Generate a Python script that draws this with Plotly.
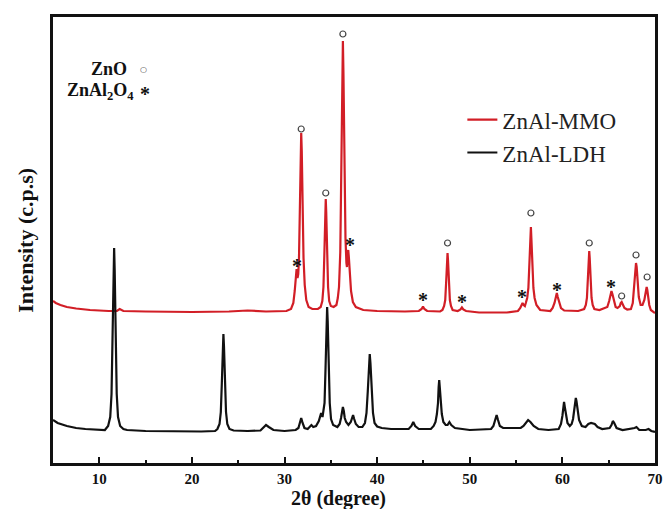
import plotly.graph_objects as go

# ---- data (2theta in degrees, intensity in arbitrary units) ----
ldh_x = [5.0, 5.5, 6.5, 7.5, 8.5, 10.0, 10.6,
         10.95, 11.18, 11.32, 11.43, 11.54, 11.6, 11.66, 11.77, 11.88, 12.02, 12.25, 12.6,
         13.0, 15.0, 18.0, 21.0, 22.5,
         22.75, 22.98, 23.12, 23.23, 23.34, 23.4, 23.46, 23.57, 23.68, 23.82, 24.05, 24.5, 26.0,
         27.4, 27.8, 28.0, 28.3, 28.8, 30.0, 31.2,
         31.5, 31.65, 31.8, 31.95, 32.15, 32.5, 32.75, 32.9, 33.1, 33.4,
         33.7, 33.85, 33.95, 34.1, 34.22,
         34.32, 34.43, 34.54, 34.6, 34.66, 34.77, 34.88, 35.02, 35.25, 35.7,
         35.95, 36.1, 36.2, 36.3, 36.4, 36.5, 36.65, 36.9,
         37.15, 37.28, 37.4, 37.52, 37.7, 38.0, 38.4,
         38.68, 38.85, 38.99, 39.125, 39.2, 39.275, 39.41, 39.55, 39.72, 40.0, 40.5, 41.5, 43.4,
         43.7, 43.9, 44.1, 44.5, 45.8,
         46.1, 46.3, 46.45, 46.57, 46.64, 46.7, 46.76, 46.87, 46.98, 47.15, 47.4,
         47.6, 47.8, 48.0, 48.4, 50.0, 52.3,
         52.55, 52.75, 52.9, 53.05, 53.25, 53.6, 55.5,
         55.8, 56.1, 56.3, 56.55, 56.9, 57.4, 58.5, 59.6,
         59.85, 60.0, 60.1, 60.18, 60.26, 60.38, 60.55, 60.8, 61.0,
         61.15, 61.3, 61.4, 61.45, 61.52, 61.65, 61.8, 62.1, 62.5,
         62.8, 63.1, 63.5, 63.8, 64.3, 65.1,
         65.3, 65.45, 65.6, 65.85, 66.5, 67.5,
         67.8, 68.0, 68.3, 69.0, 69.3, 69.6, 70.0]
ldh_y = [43, 40, 37, 35, 34, 33, 33,
         37, 46, 69, 124, 193, 215, 193, 124, 69, 46, 37, 34,
         33, 32, 31.5, 31.5, 32,
         34, 39, 51, 80, 117, 129, 117, 80, 51, 39, 34, 32.5, 32,
         32.5, 36, 38, 36, 33, 32, 33,
         35, 40, 45, 40, 35, 34, 36, 38, 36, 37,
         42, 48, 50, 46, 52,
         60, 96, 142, 156, 142, 96, 60, 44, 38, 36,
         39, 45, 52, 56, 52, 45, 41, 38,
         41, 45, 48, 44, 39, 36, 36,
         40, 50, 72, 100, 109, 100, 72, 50, 40, 36.5, 35, 34, 34,
         37, 41, 37, 34, 34,
         37, 41, 49, 60, 76, 83, 76, 60, 49, 41, 38,
         38, 41, 38, 35, 33, 34,
         37, 43, 48, 43, 37, 35, 35,
         37, 41, 43, 41, 37, 34, 33, 34,
         39, 47, 56, 61, 56, 47, 40, 37, 39,
         44, 55, 63, 65, 62, 52, 43, 37, 36,
         39, 40, 39, 36, 34, 35,
         38, 42, 40, 35, 33, 34,
         35, 36, 33, 33, 34, 32, 31]

mmo_x = [5.0, 5.3, 5.8, 6.5, 7.5, 9.0, 11.0, 11.9, 12.2, 12.6, 15.0, 20.0, 24.0, 26.0, 28.0, 30.2, 30.7,
         30.95, 31.1, 31.2, 31.3, 31.4, 31.48, 31.56, 31.65, 31.74, 31.8, 31.86, 31.95, 32.05,
         32.18, 32.35, 32.6, 33.0, 33.6,
         33.9, 34.08, 34.2, 34.3, 34.4, 34.45, 34.5, 34.6, 34.7, 34.82, 35.0, 35.3, 35.6,
         35.75, 35.88, 36.02, 36.13, 36.24, 36.3, 36.36, 36.47, 36.58, 36.68, 36.74, 36.82,
         36.88, 36.95, 37.05, 37.18, 37.38, 37.7, 38.5,
         40.0, 43.0, 44.5, 44.8, 44.95, 45.1, 45.4, 46.8,
         47.05, 47.23, 47.35, 47.45, 47.55, 47.6, 47.65, 47.75, 47.85, 47.97, 48.15, 48.7,
         49.0, 49.15, 49.3, 49.6, 51.0, 54.0, 55.2,
         55.45, 55.6, 55.7, 55.82, 55.95,
         56.05, 56.2, 56.33, 56.45, 56.55, 56.6, 56.65, 56.75, 56.87, 57.0, 57.2, 57.6, 58.7,
         58.95, 59.15, 59.3, 59.4, 59.5, 59.65, 59.85, 60.2, 61.7,
         62.35, 62.53, 62.65, 62.75, 62.85, 62.9, 62.95, 63.05, 63.15, 63.27, 63.45, 64.0,
         64.85, 65.05, 65.2, 65.3, 65.4, 65.55, 65.75, 65.95,
         66.2, 66.3, 66.4, 66.5, 66.7, 67.0, 67.4,
         67.6, 67.72, 67.82, 67.9, 67.95, 68.02, 68.12, 68.25, 68.45, 68.65,
         68.85, 68.97, 69.1, 69.17, 69.25, 69.38, 69.55, 69.8, 70.0]
mmo_y = [162, 160, 158, 156, 154.5, 153, 152, 152, 154, 152, 151.5, 151, 151.5, 152.5, 151.5, 152, 154,
         160, 172, 184, 194, 185, 189, 205, 250, 312, 330, 312, 250, 205,
         178, 163, 156, 154, 154,
         156, 162, 176, 209, 251, 264, 251, 209, 176, 162, 157, 156, 158,
         165, 176, 211, 290, 390, 422, 390, 290, 225, 200, 196, 210,
         213, 205, 188, 172, 161, 156, 153,
         152, 151.5, 152, 154, 156.5, 154, 152, 151.5,
         153, 157, 163, 181, 203, 210, 203, 181, 163, 157, 153, 152,
         153.5, 155.5, 153.5, 152, 150.5, 150.5, 152,
         155, 158.5, 160, 158, 157,
         160, 165, 175, 197, 225, 236, 225, 197, 175, 165, 158, 153, 152,
         155, 160, 166, 170, 166, 160, 155, 152.5, 152,
         154, 158, 165, 182, 205, 212, 205, 182, 165, 158, 154, 153,
         156, 162, 169, 172, 169, 162, 156, 155,
         157, 160, 161, 159, 155, 153.5, 154,
         160, 172, 188, 198, 200, 196, 180, 166, 158, 158,
         163, 171, 176, 173, 165, 158, 153, 151, 150]

zno_x = [31.8, 34.45, 36.3, 47.6, 56.6, 62.9, 66.4, 67.95, 69.15]
zno_y = [334, 270, 429, 220, 250, 220, 167, 208, 186]

spinel_x = [31.3, 37.1, 44.95, 49.15, 55.6, 59.4, 65.3]
spinel_y = [201, 222, 167, 165, 170, 177, 180]

x_ticks = [10, 20, 30, 40, 50, 60, 70]
series_names = ["ZnAl-MMO", "ZnAl-LDH"]

RED = "#d21e26"
BLACK = "#111111"
SERIF = "Liberation Serif"

fig = go.Figure()
fig.add_trace(go.Scatter(x=mmo_x, y=mmo_y, mode="lines", name=series_names[0],
                         line=dict(color=RED, width=2.2)))
fig.add_trace(go.Scatter(x=ldh_x, y=ldh_y, mode="lines", name=series_names[1],
                         line=dict(color=BLACK, width=2.2)))
fig.add_trace(go.Scatter(x=zno_x, y=zno_y, mode="markers", showlegend=False,
                         marker=dict(symbol="circle-open", size=6, color="#444444",
                                     line=dict(width=1.2, color="#444444"))))

for sx, sy in zip(spinel_x, spinel_y):
    fig.add_annotation(x=sx, y=sy, xref="x", yref="y", text="<b>*</b>", showarrow=False,
                       yshift=-4, font=dict(family=SERIF, size=20, color="#111111"))

# phase key, top-left
fig.add_annotation(x=0.127, y=0.884, xref="paper", yref="paper", text="<b>ZnO</b>",
                   xanchor="right", yanchor="middle", showarrow=False,
                   font=dict(family=SERIF, size=18, color="#111111"))
fig.add_annotation(x=0.150, y=0.883, xref="paper", yref="paper", text="○",
                   xanchor="center", yanchor="middle", showarrow=False,
                   font=dict(family="DejaVu Sans", size=8, color="#444444"))
fig.add_annotation(x=0.138, y=0.832, xref="paper", yref="paper",
                   text="<b>ZnAl<sub>2</sub>O<sub>4</sub></b>",
                   xanchor="right", yanchor="middle", showarrow=False,
                   font=dict(family=SERIF, size=18, color="#111111"))
fig.add_annotation(x=0.153, y=0.834, xref="paper", yref="paper", text="<b>*</b>",
                   xanchor="center", yanchor="middle", showarrow=False, yshift=-3,
                   font=dict(family=SERIF, size=20, color="#111111"))

# axis titles
fig.add_annotation(x=0.474, y=-0.079, xref="paper", yref="paper", text="<b>2θ (degree)</b>",
                   xanchor="center", yanchor="middle", showarrow=False,
                   font=dict(family=SERIF, size=20, color="#111111"))
fig.add_annotation(x=-0.047, y=0.5, xref="paper", yref="paper", text="<b>Intensity (c.p.s)</b>",
                   xanchor="center", yanchor="middle", showarrow=False, textangle=-90,
                   font=dict(family=SERIF, size=22, color="#111111"))

fig.update_layout(
    width=672, height=509,
    margin=dict(l=53, r=9, t=17, b=46),
    paper_bgcolor="white", plot_bgcolor="white",
    font=dict(family=SERIF, color="#111111"),
    legend=dict(x=0.68, y=0.818, xanchor="left", yanchor="top",
                font=dict(family=SERIF, size=23, color="#222222"),
                bgcolor="rgba(0,0,0,0)", tracegroupgap=0),
)
fig.update_xaxes(range=[5, 70], tickvals=x_ticks, ticktext=[f"<b>{t}</b>" for t in x_ticks],
                 ticks="inside", ticklen=6, tickwidth=2, tickcolor="#111111",
                 minor=dict(dtick=5, tick0=5, ticks="inside", ticklen=3, tickwidth=2,
                            tickcolor="#111111"),
                 showline=True, linewidth=3, linecolor="#111111", mirror=True,
                 showgrid=False, zeroline=False,
                 tickfont=dict(family=SERIF, size=15, color="#111111"))
fig.update_yaxes(range=[0, 446], showticklabels=False, ticks="",
                 showline=True, linewidth=3, linecolor="#111111", mirror=True,
                 showgrid=False, zeroline=False)

fig.write_html("out.html", config={"displayModeBar": False},
               post_script="document.body.style.margin='0px';")
